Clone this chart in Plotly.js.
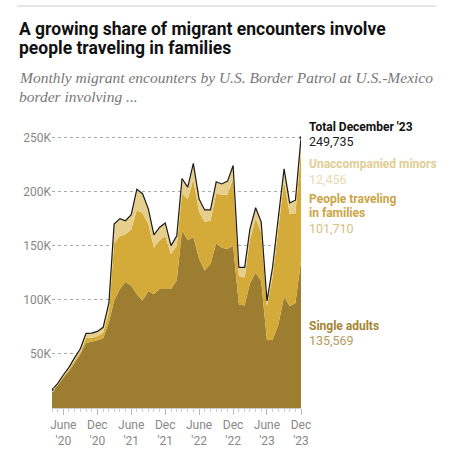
<!DOCTYPE html>
<html>
<head>
<meta charset="utf-8">
<script src="https://cdn.plot.ly/plotly-3.0.1.min.js"></script>
<style>
html,body{margin:0;padding:0;background:#fff;}
#chart{width:459px;height:455px;}
</style>
</head>
<body>
<div id="chart"></div>
<script>
// ---- Data (monthly USBP encounters, Apr 2020 – Dec 2023) ----
var months = ['2020-04-01','2020-05-01','2020-06-01','2020-07-01','2020-08-01','2020-09-01','2020-10-01','2020-11-01','2020-12-01',
  '2021-01-01','2021-02-01','2021-03-01','2021-04-01','2021-05-01','2021-06-01','2021-07-01','2021-08-01','2021-09-01','2021-10-01','2021-11-01','2021-12-01',
  '2022-01-01','2022-02-01','2022-03-01','2022-04-01','2022-05-01','2022-06-01','2022-07-01','2022-08-01','2022-09-01','2022-10-01','2022-11-01','2022-12-01',
  '2023-01-01','2023-02-01','2023-03-01','2023-04-01','2023-05-01','2023-06-01','2023-07-01','2023-08-01','2023-09-01','2023-10-01','2023-11-01','2023-12-01'];

var singleAdults = [15500,20500,28000,34000,42000,50000,60000,61000,62500,
  64500,79000,99000,110000,116500,113000,105000,99000,108000,105000,110000,110000,
  110000,118000,164000,155000,158000,138000,127000,133000,152000,148000,147000,150000,
  95600,94700,115000,125000,117000,62500,63000,77000,103000,94000,97000,135569];

var families = [800,800,1000,1500,2000,2000,4600,4000,3700,
  5000,9500,53000,49000,44000,52000,78000,81000,62000,43000,45000,49000,
  32000,32000,34000,38000,53000,43000,45000,40000,46000,49000,50000,62000,
  26400,25800,40000,50000,45000,31500,58000,88000,107000,85000,83000,101710];

var minors = [700,1200,1500,2000,2500,3000,4400,4200,4600,
  5000,8500,18000,16000,12500,13600,19000,18000,14000,12000,12000,12000,
  8000,9000,14000,11000,15000,12000,11000,10000,11000,10000,12600,12000,
  8000,9500,10000,10000,10000,5000,9000,11000,11000,10500,12000,12456];

var yTickVals = [50000,100000,150000,200000,250000];
var yTickText = ['50K','100K','150K','200K','250K'];
var xTickVals = ['2020-06-01','2020-12-01','2021-06-01','2021-12-01','2022-06-01','2022-12-01','2023-06-01','2023-12-01'];
var xTickText = ["June<br>'20","Dec<br>'20","June<br>'21","Dec<br>'21","June<br>'22","Dec<br>'22","June<br>'23","Dec<br>'23"];

// ---- Derived ----
var total = singleAdults.map(function(v,i){ return v + families[i] + minors[i]; });
var markerSizes = total.map(function(v,i){ return (i===0 || i===total.length-1) ? 4.5 : 0; });

// ---- Layout geometry ----
var W = 459, H = 455;
var M = {l:52, r:158, t:132, b:47};
var PW = W - M.l - M.r, PH = H - M.t - M.b;
function px(x){ return (x - M.l) / PW; }
function py(y){ return (H - M.b - y) / PH; }

var cAdults = '#9d7d2f', cFam = '#d4aa38', cMin = '#e6cf8c';

var traces = [
  {x: months, y: singleAdults, type:'scatter', mode:'lines', stackgroup:'one',
   line:{width:0, color:cAdults}, fillcolor:cAdults, hoverinfo:'skip', name:'Single adults'},
  {x: months, y: families, type:'scatter', mode:'lines', stackgroup:'one',
   line:{width:0, color:cFam}, fillcolor:cFam, hoverinfo:'skip', name:'People traveling in families'},
  {x: months, y: minors, type:'scatter', mode:'lines', stackgroup:'one',
   line:{width:0, color:cMin}, fillcolor:cMin, hoverinfo:'skip', name:'Unaccompanied minors'},
  {x: months, y: total, type:'scatter', mode:'lines+markers',
   line:{width:1.2, color:'#1a1a1a'}, marker:{size:markerSizes, color:'#1a1a1a'},
   hoverinfo:'skip', name:'Total'}
];

var sans = 'Roboto, "Liberation Sans", sans-serif';
var narrow = '"Liberation Sans Narrow", Roboto, sans-serif';
function lab(text, x, yBase, size, color, bold, family){
  return {text: bold ? '<b>'+text+'</b>' : text, xref:'paper', yref:'paper',
    x: px(x), y: py(yBase - size*0.32), xanchor:'left', yanchor:'middle',
    showarrow:false, font:{size:size, color:color, family: family || sans}};
}

var annotations = [
  lab('A growing share of migrant encounters involve', 17, 35, 17.5, '#111', true, narrow),
  lab('people traveling in families', 17, 54, 17.5, '#111', true, narrow),
  lab('<i>Monthly migrant encounters by U.S. Border Patrol at U.S.-Mexico</i>', 17, 82, 15.5, '#777', false, '"Liberation Serif", serif'),
  lab('<i>border involving ...</i>', 17, 101, 15.5, '#777', false, '"Liberation Serif", serif'),
  lab("Total December '23", 307, 131, 12, '#111', true),
  lab('249,735', 307, 145, 12.5, '#222', false),
  lab('Unaccompanied minors', 307, 168, 12, '#e0cd94', true),
  lab('12,456', 307, 183, 12.5, '#e8dbb2', false),
  lab('People traveling', 307, 203, 12, '#cba545', true),
  lab('in families', 307, 217, 12, '#cba545', true),
  lab('101,710', 307, 232, 12.5, '#d6c080', false),
  lab('Single adults', 307, 330, 12, '#a38534', true),
  lab('135,569', 307, 344, 12.5, '#b59b5e', false)
];

var layout = {
  width: W, height: H,
  margin: M,
  paper_bgcolor:'#fff', plot_bgcolor:'#fff',
  showlegend:false,
  xaxis:{type:'date', range:['2020-04-01','2023-12-01'], tickvals:xTickVals, ticktext:xTickText,
    ticks:'outside', ticklen:6, tickcolor:'#bbb', tickwidth:1,
    showline:true, linecolor:'#ccc', linewidth:1, showgrid:false, zeroline:false,
    tickfont:{family:sans, size:12, color:'#888'},
    minor:{dtick:'M1', tick0:'2020-04-01', ticks:'outside', ticklen:3, tickcolor:'#ccc', showgrid:false},
    fixedrange:true},
  yaxis:{range:[0,255000], tickvals:yTickVals, ticktext:yTickText,
    showgrid:true, gridcolor:'#aaa', griddash:'dot', gridwidth:1,
    zeroline:false, showline:false, ticks:'',
    tickfont:{family:sans, size:12, color:'#888'}, fixedrange:true},
  shapes:[{type:'line', xref:'paper', yref:'paper', x0:px(17), x1:px(436), y0:py(6), y1:py(6),
    line:{color:'#ccc', width:1}}],
  annotations: annotations
};

Plotly.newPlot('chart', traces, layout, {displayModeBar:false, staticPlot:true});
</script>
</body>
</html>
